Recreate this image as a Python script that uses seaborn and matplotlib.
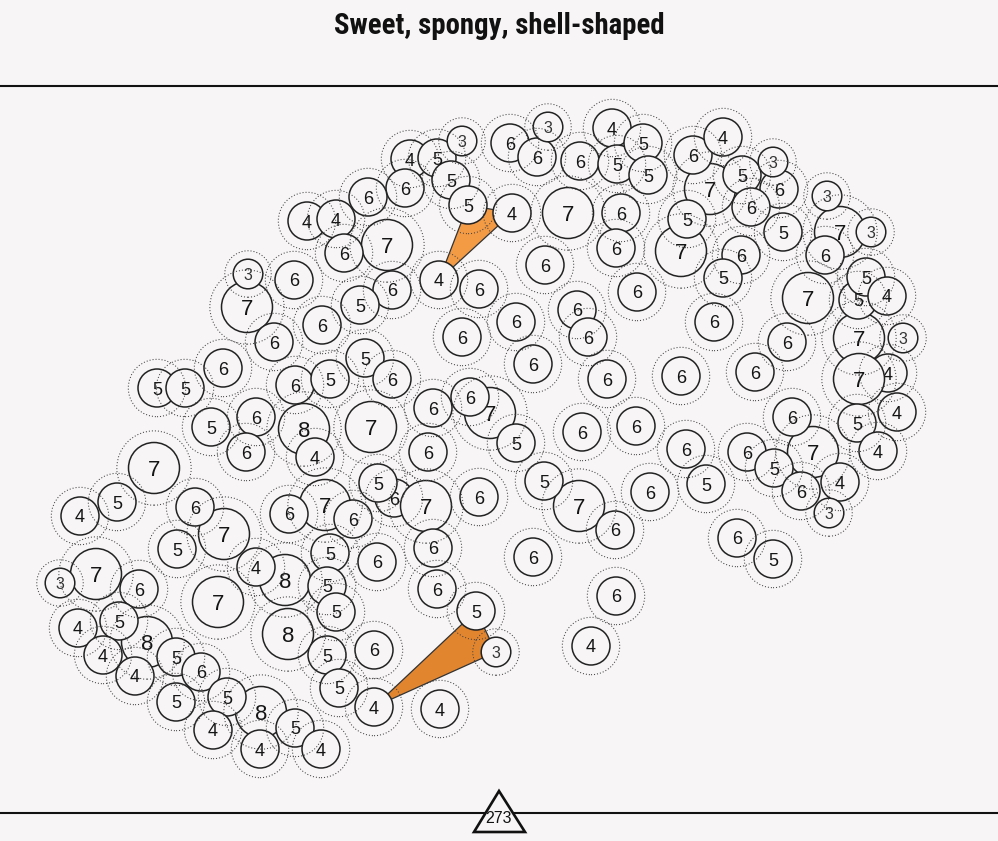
import numpy as np
import pandas as pd
import matplotlib
matplotlib.use("Agg")
import matplotlib.pyplot as plt
from matplotlib import font_manager
import seaborn as sns

BG = "#f7f5f6"
INK = "#151515"

title = "Sweet, spongy, shell-shaped"
total_label = "273"

# circles that sit underneath their neighbours
under_x = [490, 394, 888, 859]
under_y = [413, 498, 373, 338]
under_n = [7, 6, 4, 7]

# top band
top_x = [548, 612, 462, 510, 537, 410, 437, 451, 405, 368, 468, 512, 307, 336,
         387, 344, 568, 621, 616, 580, 617, 643, 648, 693, 723, 710, 742, 773,
         779, 751, 687, 681, 741, 783, 723, 827, 840, 871, 825]
top_y = [127, 128, 141, 143, 157, 159, 158, 180, 188, 197, 205, 213, 221, 219,
         245, 253, 213, 213, 248, 161, 164, 143, 175, 155, 137, 189, 175, 162,
         189, 207, 219, 251, 255, 232, 278, 196, 232, 232, 255]
top_n = [3, 4, 3, 6, 6, 4, 5, 5, 6, 6, 5, 4, 4, 4,
         7, 6, 7, 6, 6, 6, 5, 5, 5, 6, 4, 7, 5, 3,
         6, 6, 5, 7, 6, 5, 5, 3, 7, 3, 6]

# right arm
right_x = [858, 866, 887, 808, 714, 787, 903, 859, 755, 681, 792, 857, 897, 878,
           747, 813, 774, 801, 840, 829, 706, 686, 650, 737, 773]
right_y = [300, 277, 296, 298, 322, 342, 338, 379, 372, 376, 417, 423, 412, 451,
           452, 452, 468, 491, 482, 513, 484, 449, 492, 538, 559]
right_n = [5, 5, 4, 7, 6, 6, 3, 7, 6, 6, 6, 5, 4, 4,
           6, 7, 5, 6, 4, 3, 5, 6, 6, 6, 5]

# middle
mid_x = [545, 637, 577, 588, 516, 462, 479, 439, 533, 607, 470, 433, 516, 582,
         636, 428, 544, 579, 479, 615, 533, 616, 591, 426, 378, 433, 437, 476,
         496, 374, 440, 374, 377]
mid_y = [265, 292, 310, 337, 322, 337, 289, 280, 364, 379, 397, 408, 443, 432,
         426, 452, 481, 506, 497, 530, 557, 596, 646, 506, 483, 548, 589, 611,
         652, 707, 709, 650, 562]
mid_n = [6, 6, 6, 6, 6, 6, 6, 4, 6, 6, 6, 6, 5, 6,
         6, 6, 5, 7, 6, 6, 6, 6, 4, 7, 5, 6, 6, 5,
         3, 4, 4, 6, 6]

# left lobe
left_x = [248, 294, 247, 392, 360, 322, 274, 365, 392, 223, 157, 185, 295, 330,
          256, 211, 304, 371, 246, 315, 154, 117, 80, 195, 224, 177, 289, 325,
          353, 330, 256, 285, 60, 96, 139, 218, 327, 336, 288, 78, 119, 147,
          103, 176, 201, 135, 327, 339, 176, 227, 261, 213, 295, 260, 321]
left_y = [274, 280, 307, 290, 305, 325, 342, 358, 379, 368, 388, 388, 385, 379,
          417, 427, 429, 427, 452, 457, 468, 502, 516, 507, 534, 549, 514, 505,
          519, 553, 567, 580, 583, 574, 589, 602, 586, 612, 634, 628, 621, 642,
          655, 657, 672, 676, 655, 688, 702, 697, 712, 730, 728, 749, 749]
left_n = [3, 6, 7, 6, 5, 6, 6, 5, 6, 6, 5, 5, 6, 5,
          6, 5, 8, 7, 6, 4, 7, 5, 4, 6, 7, 5, 6, 7,
          6, 5, 4, 8, 3, 7, 6, 7, 5, 5, 8, 4, 5, 8,
          4, 5, 6, 4, 5, 5, 5, 5, 8, 4, 5, 4, 4]

# orange links between three circles (by centre)
links = [[(439, 280), (468, 205), (512, 213)],
         [(374, 707), (476, 611), (496, 652)]]
link_colors = ["#f39a45", "#e2852f"]

radius = {3: 14.8, 4: 19.0, 5: 19.0, 6: 19.0, 7: 25.5, 8: 25.5}
fsize = {3: 11.5, 4: 13, 5: 13, 6: 13, 7: 16, 8: 16}
PT = 72 / 100

under = pd.DataFrame({"x": under_x, "y": under_y, "n": under_n})
main = pd.DataFrame({"x": top_x + right_x + mid_x + left_x,
                     "y": top_y + right_y + mid_y + left_y,
                     "n": top_n + right_n + mid_n + left_n})
main["r"] = main["n"].map(radius)
main = main.sort_values("r", ascending=False, kind="stable")
allc = pd.concat([under, main[["x", "y", "n"]]], ignore_index=True)

solid_sizes = {k: (2 * r * PT) ** 2 for k, r in radius.items()}
ring_sizes = {k: (2 * (1.3 * r + 4) * PT) ** 2 for k, r in radius.items()}

sns.set_theme(style="white")
plt.rcParams["font.family"] = ["Liberation Sans", "DejaVu Sans"]

fig = plt.figure(figsize=(9.98, 8.41), dpi=100, facecolor=BG)
ax = fig.add_axes([0, 0, 1, 1])
ax.set_facecolor(BG)

for tri, col in zip(links, link_colors):
    px = [p[0] for p in tri]
    py = [p[1] for p in tri]
    ax.fill(px, py, facecolor=col, edgecolor="#333", linewidth=0.9, zorder=1)

for df, z in [(under, 2), (main, 3)]:
    sns.scatterplot(data=df, x="x", y="y", size="n", sizes=solid_sizes,
                    marker="o", color=BG, edgecolor="#222", linewidth=1.1,
                    legend=False, zorder=z, ax=ax)
    for _, row in df.iterrows():
        ax.text(row.x, row.y, str(int(row.n)), ha="center", va="center_baseline",
                fontsize=fsize[int(row.n)], color="#333" if row.n == 3 else INK,
                zorder=z + 0.5)

sns.scatterplot(data=allc, x="x", y="y", size="n", sizes=ring_sizes,
                marker="o", facecolor="none", edgecolor="#444", linewidth=0.75,
                linestyle=(0, (1, 1.9)), legend=False, zorder=5, ax=ax)

ax.axhline(86, color="#111", lw=1.5, zorder=6)
ax.axhline(813, color="#111", lw=1.5, zorder=6)
ax.fill([474, 499, 525], [832, 791, 832], facecolor=BG, edgecolor="#111",
        linewidth=1.9, joinstyle="miter", zorder=7)
ax.text(499, 817, total_label, ha="center", va="center_baseline", fontsize=11.5,
        color="#111", zorder=8)

names = {f.name for f in font_manager.fontManager.ttflist}
tfont = "DejaVu Serif"
for cand in ["DejaVu Serif Condensed", "Liberation Sans Narrow", "Roboto Condensed"]:
    if cand in names:
        tfont = cand
        break
t = ax.text(499, 26, title, ha="center", va="center", fontsize=21,
            fontweight="heavy", family=[tfont, "DejaVu Serif"], color="#111", zorder=8)
fig.canvas.draw()
w = t.get_window_extent().width
if w > 330:
    t.set_fontsize(21 * 330 / w)

ax.set_xlim(0, 998)
ax.set_ylim(841, 0)
ax.axis("off")
fig.savefig("out.png", dpi=100, facecolor=BG)
